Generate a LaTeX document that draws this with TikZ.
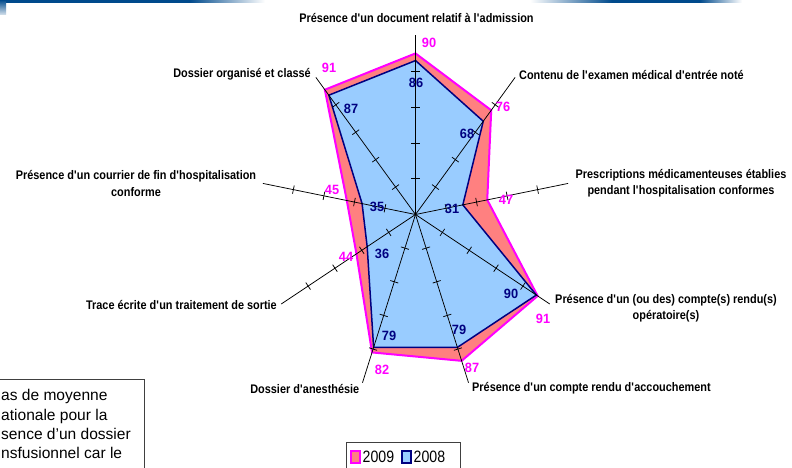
\documentclass[tikz,border=0pt]{standalone}
\usepackage{fontspec}
\setmainfont{Liberation Sans}
\newfontfamily\catfont[FakeStretch=0.875]{Liberation Sans}
\newfontfamily\valfont[FakeStretch=0.95]{Liberation Sans}
\newfontfamily\legfont[FakeStretch=0.86]{Liberation Sans}
\newcommand{\ap}{\textquotesingle}
\usetikzlibrary{calc}
\definecolor{pinkfill}{HTML}{FF8080}
\definecolor{magline}{HTML}{FF00FF}
\definecolor{bluefill}{HTML}{99CCFF}
\definecolor{navyline}{HTML}{000080}
\definecolor{headblue}{RGB}{0,74,140}
\definecolor{boxgray}{HTML}{404040}
\tikzset{
  catlabel/.style={font=\catfont\bfseries\fontsize{12.5}{16.5}\selectfont, inner sep=0pt, align=center},
  valnine/.style={font=\valfont\bfseries\fontsize{13.5}{14}\selectfont, text=magline, inner sep=0pt},
  valeight/.style={font=\valfont\bfseries\fontsize{13.5}{14}\selectfont, text=navyline, inner sep=0pt},
  axisline/.style={black, line width=0.75bp},
  ticksty/.style={black, line width=0.75bp},
  polynine/.style={fill=pinkfill, draw=magline, line width=2bp, line join=miter},
  polyeight/.style={fill=bluefill, draw=navyline, line width=1.5bp, line join=miter},
  boxline/.style={draw=boxgray, line width=0.8bp},
  boxtext/.style={font=\fontsize{15.6}{19}\selectfont, inner sep=0pt, anchor=base west},
  legtext/.style={font=\legfont\fontsize{16.5}{18}\selectfont, inner sep=0pt},
}
\begin{document}
\begin{tikzpicture}[x=1bp,y=-1bp]
\useasboundingbox (0,0) rectangle (792,468);
\clip (0,0) rectangle (792,468);
\fill[white] (0,0) rectangle (792,468);

% header band
\fill[headblue] (0,0) rectangle (190,2.6);
\shade[left color=headblue, right color=white] (189.5,0) rectangle (265,2.6);
\shade[left color=white, right color=headblue] (530,0) rectangle (612,2.6);
\fill[headblue] (611.5,0) rectangle (700,2.6);
\shade[left color=headblue, right color=white] (699.5,0) rectangle (742,2.6);
\shade[top color=headblue, bottom color=headblue!15] (0,0) rectangle (6,15);

% chart geometry
\coordinate (c) at (415.5,214.5);
\foreach \k in {0,...,8}{
  \pgfmathsetmacro\ax{415.5+155*sin(40*\k)}
  \pgfmathsetmacro\ay{214.5-179*cos(40*\k)}
  \coordinate (a\k) at (\ax,\ay);
}
\foreach \v [count=\k from 0] in {90,76,47,91,87,82,44,45,91}{
  \pgfmathsetmacro\ff{\v/100}
  \coordinate (n\k) at ($(c)!\ff!(a\k)$);
}
\foreach \v [count=\k from 0] in {86,68,31,90,79,79,36,35,87}{
  \pgfmathsetmacro\ff{\v/100}
  \coordinate (o\k) at ($(c)!\ff!(a\k)$);
}
\draw[polynine] (n0) -- (n1) -- (n2) -- (n3) -- (n4) -- (n5) -- (n6) -- (n7) -- (n8) -- cycle;
\draw[polyeight] (o0) -- (o1) -- (o2) -- (o3) -- (o4) -- (o5) -- (o6) -- (o7) -- (o8) -- cycle;

% axes and ticks
\foreach \k in {0,...,8}{
  \draw[axisline] (c) -- (a\k);
  \foreach \f in {0.2,0.4,0.6,0.8,1.0}{
    \coordinate (p) at ($(c)!\f!(a\k)$);
    \draw[ticksty] ($(p)!4.2bp!90:(a\k)$) -- ($(p)!4.2bp!-90:(a\k)$);
  }
}

% category labels
\node[catlabel] (l0) at (416.5,18) {Présence d\ap un document relatif à l\ap admission};
\node[catlabel, anchor=west] (l1) at (519,74.5) {Contenu de l\ap examen médical d\ap entrée noté};
\node[catlabel] (l2) at (681,183) {Prescriptions médicamenteuses établies\\pendant l\ap hospitalisation conformes};
\node[catlabel] (l3) at (666,308) {Présence d\ap un (ou des) compte(s) rendu(s)\\opératoire(s)};
\node[catlabel, anchor=west] (l4) at (472,388.5) {Présence d\ap un compte rendu d\ap accouchement};
\node[catlabel, anchor=east] (l5) at (359.5,389) {Dossier d\ap anesthésie};
\node[catlabel, anchor=east] (l6) at (277,305) {Trace écrite d\ap un traitement de sortie};
\node[catlabel] (l7) at (136,183.5) {Présence d\ap un courrier de fin d\ap hospitalisation\\conforme};
\node[catlabel, anchor=east] (l8) at (311,74) {Dossier organisé et classé};

% 2009 values
\node[valnine] (v90) at (429,43) {90};
\node[valnine] (v76) at (503,107) {76};
\node[valnine] (v47) at (506,200) {47};
\node[valnine] (v91b) at (543,319) {91};
\node[valnine] (v87) at (472,368) {87};
\node[valnine] (v82) at (382,370) {82};
\node[valnine] (v44) at (346,257) {44};
\node[valnine] (v45) at (332,190) {45};
\node[valnine] (v91a) at (329,68) {91};

% 2008 values
\node[valeight] (w86) at (416,83) {86};
\node[valeight] (w68) at (467,134) {68};
\node[valeight] (w31) at (452,209) {31};
\node[valeight] (w90) at (511,294) {90};
\node[valeight] (w79b) at (459,330) {79};
\node[valeight] (w79a) at (389,336) {79};
\node[valeight] (w36) at (382,254) {36};
\node[valeight] (w35) at (377,207) {35};
\node[valeight] (w87) at (351,109) {87};

% text box (cut off at the left and bottom)
\draw[boxline, fill=white] (-2,379.5) rectangle (144,480);
\node[boxtext] (t1) at (1,400.5) {as de moyenne};
\node[boxtext] (t2) at (1,420) {ationale pour la};
\node[boxtext] (t3) at (1,439.3) {sence d’un dossier};
\node[boxtext] (t4) at (1,458.3) {nsfusionnel car le};

% legend
\draw[boxline, fill=white] (346,442.7) rectangle (460,480);
\draw[fill=pinkfill, draw=magline, line width=1.4bp] (351,451) rectangle (360,463);
\node[legtext, anchor=west] (g9) at (362.5,457.2) {2009};
\draw[fill=bluefill, draw=navyline, line width=1.4bp] (402,451) rectangle (411,463);
\node[legtext, anchor=west] (g8) at (413.5,457.2) {2008};
\end{tikzpicture}
\end{document}
